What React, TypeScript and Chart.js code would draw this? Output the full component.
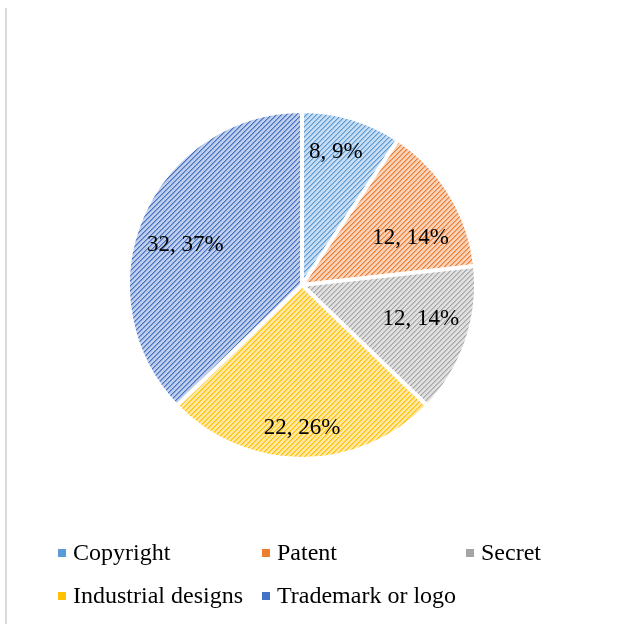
import React, { useEffect, useRef } from "react";
import { Chart, registerables } from "chart.js";

Chart.register(...registerables);

const categories = ["Copyright", "Patent", "Secret", "Industrial designs", "Trademark or logo"];
const counts = [8, 12, 12, 22, 32];
const stripeColors = ["#5B9BD5", "#ED7D31", "#A5A5A5", "#FFC000", "#4472C4"];
const backColors = ["#C8DDF1", "#F9D3B9", "#E0E0E0", "#FFE8A3", "#BFCEEA"];

// label placement style (fraction of radius, angle nudge in degrees)
const labelRadius = [0.79, 0.68, 0.71, 0.82, 0.71];
const labelNudge = [-2.5, 8, -3, 0, -4];

function hexToRgb(h: string) {
  const n = parseInt(h.slice(1), 16);
  return [(n >> 16) & 255, (n >> 8) & 255, n & 255];
}

function makePattern(fg: string, bg: string): CanvasPattern | string {
  const size = 5;
  const c = document.createElement("canvas");
  c.width = size;
  c.height = size;
  const ctx = c.getContext("2d");
  if (!ctx) return fg;
  const img = ctx.createImageData(size, size);
  const f = hexToRgb(fg);
  const b = hexToRgb(bg);
  const m = [0, 1, 2].map((j) => Math.round((f[j] + b[j]) / 2));
  for (let y = 0; y < size; y++) {
    for (let x = 0; x < size; x++) {
      const k = (x + y) % size;
      const col = k === 0 ? f : k === 1 ? m : b;
      const i = (y * size + x) * 4;
      img.data[i] = col[0];
      img.data[i + 1] = col[1];
      img.data[i + 2] = col[2];
      img.data[i + 3] = 255;
    }
  }
  ctx.putImageData(img, 0, 0);
  const p = ctx.createPattern(c, "repeat");
  return p || fg;
}

const FONT = '"Liberation Serif", "Times New Roman", serif';

export default function App() {
  const ref = useRef<HTMLCanvasElement | null>(null);

  useEffect(() => {
    if (!ref.current) return;
    const patterns = stripeColors.map((c, i) => makePattern(c, backColors[i]));
    const total = counts.reduce((a, b) => a + b, 0);

    const labelPlugin = {
      id: "sliceLabels",
      afterDatasetsDraw(chart: any) {
        const ctx = chart.ctx;
        const meta = chart.getDatasetMeta(0);
        ctx.save();
        ctx.font = `23px ${FONT}`;
        ctx.fillStyle = "#000";
        ctx.textAlign = "center";
        ctx.textBaseline = "middle";
        meta.data.forEach((arc: any, i: number) => {
          const p = arc.getProps(["x", "y", "startAngle", "endAngle", "outerRadius"], true);
          const mid = (p.startAngle + p.endAngle) / 2 + (labelNudge[i] * Math.PI) / 180;
          const r = p.outerRadius * labelRadius[i];
          const x = p.x + Math.cos(mid) * r;
          const y = p.y + Math.sin(mid) * r;
          const pct = Math.round((counts[i] / total) * 100);
          ctx.fillText(`${counts[i]}, ${pct}%`, x, y);
        });
        ctx.restore();
      },
    };

    const legendCols = [58, 262, 466];
    const legendRows = [553, 596];
    const legendPlugin = {
      id: "gridLegend",
      afterDraw(chart: any) {
        const ctx = chart.ctx;
        ctx.save();
        ctx.font = `24px ${FONT}`;
        ctx.textBaseline = "middle";
        ctx.textAlign = "left";
        categories.forEach((name, i) => {
          const col = i % 3;
          const row = Math.floor(i / 3);
          const x = legendCols[col];
          const y = legendRows[row];
          ctx.fillStyle = stripeColors[i];
          ctx.fillRect(x, y - 4, 8, 8);
          ctx.fillStyle = "#000";
          ctx.fillText(name, x + 15, y + 1);
        });
        ctx.restore();
      },
    };

    const chart = new Chart(ref.current, {
      type: "pie",
      data: {
        labels: categories,
        datasets: [
          {
            data: counts,
            backgroundColor: patterns as any,
            borderColor: "#ffffff",
            borderWidth: 4,
          },
        ],
      },
      options: {
        responsive: false,
        animation: false,
        layout: { padding: { left: 126, right: 156, top: 109, bottom: 163 } },
        plugins: {
          legend: { display: false },
          tooltip: { enabled: false },
        },
      },
      plugins: [labelPlugin, legendPlugin],
    });
    return () => chart.destroy();
  }, []);

  return (
    <div style={{ position: "absolute", left: 0, top: 0, width: 634, height: 624, background: "#fff", overflow: "hidden" }}>
      <div style={{ position: "absolute", left: 5, top: 8, width: 2, bottom: 0, background: "#d9d9d9" }} />
      <canvas ref={ref} width={634} height={624} style={{ position: "absolute", left: 0, top: 0 }} />
    </div>
  );
}
